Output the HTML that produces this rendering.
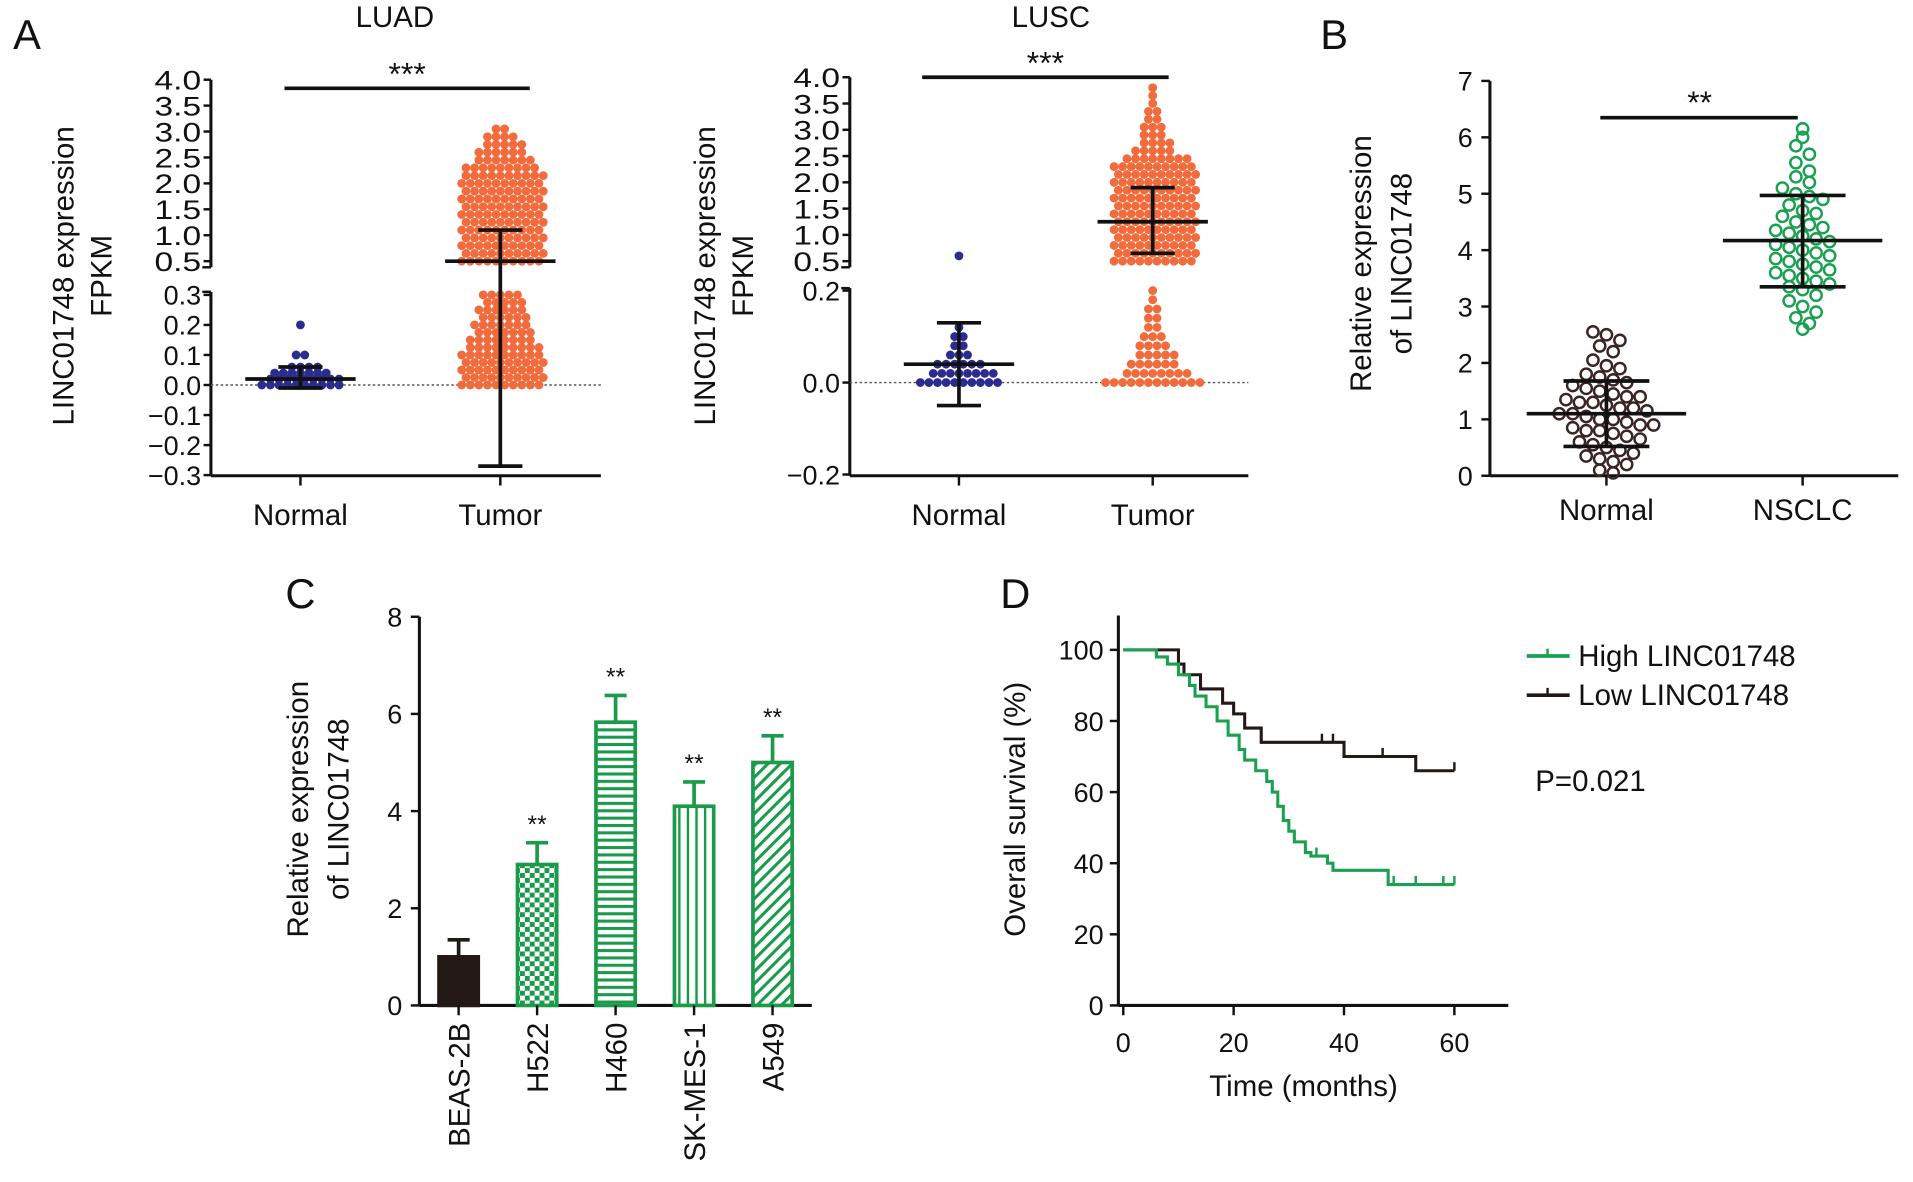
<!DOCTYPE html>
<html><head><meta charset="utf-8"><style>
html,body{margin:0;padding:0;background:#fff}
svg{display:block;font-family:"Liberation Sans",sans-serif}
</style></head><body>
<svg id="fig" width="1913" height="1182" viewBox="0 0 1560 964" preserveAspectRatio="none" xmlns="http://www.w3.org/2000/svg">
<defs>
<pattern id="pCheck" width="8" height="8" patternUnits="userSpaceOnUse"><rect width="8" height="8" fill="#fff"/><rect width="4" height="4" fill="#1a9a4a"/><rect x="4" y="4" width="4" height="4" fill="#1a9a4a"/></pattern>
<pattern id="pH" width="6" height="6" patternUnits="userSpaceOnUse"><rect width="6" height="6" fill="#fff"/><rect width="6" height="2.5" fill="#1a9a4a"/></pattern>
<pattern id="pV" width="7" height="7" patternUnits="userSpaceOnUse"><rect width="7" height="7" fill="#fff"/><rect width="2" height="7" fill="#1a9a4a"/></pattern>
<pattern id="pD" width="7" height="7" patternUnits="userSpaceOnUse" patternTransform="rotate(45)"><rect width="7" height="7" fill="#fff"/><rect width="2.5" height="7" fill="#1a9a4a"/></pattern>
</defs>
<g id="root"></g>
</svg>
<script>
// ---- Panel A data (value bins : dot counts) ----
const luadNormalVals=[0,0.02,0.04,0.06,0.1,0.2];
const luadNormalCnt=[10,9,7,4,2,1];
const luadTumorUpVals=[0.5,0.65,0.8,0.95,1.1,1.25,1.4,1.55,1.7,1.85,2.0,2.15,2.3,2.45,2.6,2.75,2.9,3.05];
const luadTumorUpCnt=[10,10,10,10,10,10,10,10,10,10,10,10,9,7,6,5,4,2];
const luadTumorLoVals=[0,0.025,0.05,0.075,0.1,0.125,0.15,0.175,0.2,0.225,0.25,0.275,0.3];
const luadTumorLoCnt=[10,10,10,10,10,9,8,7,7,6,6,5,5];
const luadStats={nMean:0.02,nLo:-0.01,nHi:0.06,tMean:0.5,tLo:-0.27,tHi:1.1};
const luscNormalVals=[0,0.02,0.04,0.06,0.08,0.1,0.12];
const luscNormalCnt=[10,8,6,3,2,2,1];
const luscNormalUpVals=[0.6];
const luscNormalUpCnt=[1];
const luscTumorUpVals=[0.5,0.65,0.8,0.95,1.1,1.25,1.4,1.55,1.7,1.85,2.0,2.15,2.3,2.45,2.6,2.75,2.9,3.05,3.2,3.35,3.5,3.65,3.8];
const luscTumorUpCnt=[10,10,10,10,10,10,10,10,10,10,10,10,10,8,5,4,3,3,2,2,1,1,1];
const luscTumorLoVals=[0,0.02,0.04,0.06,0.08,0.1,0.12,0.14,0.16,0.18,0.2];
const luscTumorLoCnt=[12,8,6,5,4,3,2,2,2,1,1];
const luscStats={nMean:0.04,nLo:-0.05,nHi:0.13,tMean:1.25,tLo:0.65,tHi:1.9};
const upTicks=["4.0","3.5","3.0","2.5","2.0","1.5","1.0","0.5"];
const upTickVals=[4.0,3.5,3.0,2.5,2.0,1.5,1.0,0.5];
const luadLoTicks=[0.3,0.2,0.1,0.0,-0.1,-0.2,-0.3];
const luscLoTicks=[0.2,0.0,-0.2];
// ---- Panel B ----
const bNormal=[2.55,2.5,2.4,2.3,2.2,2.05,1.95,1.9,1.8,1.75,1.7,1.65,1.6,1.55,1.5,1.45,1.4,1.4,1.35,1.3,1.3,1.25,1.2,1.2,1.15,1.1,1.1,1.05,1.0,1.0,0.95,0.9,0.9,0.85,0.8,0.8,0.75,0.7,0.65,0.6,0.55,0.5,0.45,0.4,0.35,0.3,0.25,0.2,0.1,0.05];
const bNSCLC=[6.15,6.0,5.85,5.7,5.55,5.4,5.3,5.2,5.1,5.0,4.95,4.9,4.8,4.7,4.65,4.6,4.5,4.45,4.4,4.35,4.3,4.25,4.2,4.15,4.1,4.05,4.0,3.95,3.9,3.85,3.8,3.75,3.7,3.65,3.6,3.55,3.5,3.45,3.4,3.35,3.3,3.2,3.1,3.0,2.9,2.8,2.7,2.6];
const bStats=[[1.1,0.52,1.68],[4.17,3.35,4.97]];
const bTicks=[0,1,2,3,4,5,6,7];
// ---- Panel C ----
const cCats=["BEAS-2B","H522","H460","SK-MES-1","A549"];
const cVals=[1.0,2.9,5.83,4.1,5.0];
const cErr=[0.35,0.45,0.55,0.5,0.55];
const cStars=["","**","**","**","**"];
const cTicks=[0,2,4,6,8];
// ---- Panel D ----
const highT=[0,6,8,10,12,13,15,17,19,21,22,24,26,27,28,29,30,31,33,34,37,38,48,60];
const highS=[100,98,96,93,90,87,84,80,76,72,69,66,63,60,56,52,49,46,43,42,40,38,34,34];
const lowT=[0,10,11,14,18,20,22,25,28,40,53,60];
const lowS=[100,96,93,89,85,82,78,74,74,70,66,66];
const highCens=[35,49,53,58,60];
const lowCens=[36,38,47,60];
const dTicks=[0,20,40,60];
const dYTicks=[0,20,40,60,80,100];

const NS="http://www.w3.org/2000/svg";
const root=document.getElementById('root');
function el(tag,attrs,parent){const e=document.createElementNS(NS,tag);for(const k in attrs)e.setAttribute(k,attrs[k]);(parent||root).appendChild(e);return e;}
function txt(x,y,s,size,anchor,extra){const t=el('text',Object.assign({x:x,y:y,'font-size':size,'text-anchor':anchor||'middle',fill:'#111'},extra||{}));t.textContent=s;return t;}
function line(x1,y1,x2,y2,w,c,dash){const a={x1:x1,y1:y1,x2:x2,y2:y2,stroke:c||'#111','stroke-width':w||2};if(dash)a['stroke-dasharray']=dash;return el('line',a);}

[["A",22,40],["B",1088,40],["C",245,496],["D",828,496]].forEach(p=>{const t=txt(p[1],p[2],p[0],34,'middle');});

function swarm(cx,vals,cnts,ymap,color,sp){
  vals.forEach((v,i)=>{const n=cnts[i];const off=(i%2)?sp/2:0;for(let k=0;k<n;k++){const c=el('circle',{cx:cx+(k-(n-1)/2)*sp+(n>3?off:0),cy:ymap(v),r:3.6,fill:color});
  
  }});
}
function errbar(cx,m,lo,hi,ym,cw,mw){line(cx,ym(lo),cx,ym(hi),3);line(cx-cw,ym(lo),cx+cw,ym(lo),3);line(cx-cw,ym(hi),cx+cw,ym(hi),3);line(cx-mw,ym(m),cx+mw,ym(m),3);}

function panelA(o){
  const g=el('g',{});
  const up=v=>o.up0-(v-0.5)*(o.up0-o.up4)/3.5;
  const lo=v=>o.z-v*o.k;
  const ax=o.ax;
  line(ax,o.up4,ax,o.up0+5,2.5);line(ax,o.loTop-3,ax,o.base,2.5);
  line(ax,o.up0+5,ax-7,o.up0+5,2);line(ax,o.loTop-3,ax-7,o.loTop-3,2);
  line(ax,o.base,o.xend,o.base,2.5);
  line(ax,o.z,o.xend,o.z,1.2,'#555','2,2');
  upTicks.forEach((s,i)=>{line(ax-6,up(upTickVals[i]),ax,up(upTickVals[i]),2);txt(ax-8,up(upTickVals[i])+8,s,22,'end',{'textLength':38,'lengthAdjust':'spacingAndGlyphs'});});
  o.loTicks.forEach(v=>{line(ax-6,lo(v),ax,lo(v),2);txt(ax-8,lo(v)+8,(v<0?'\u2212':'')+Math.abs(v).toFixed(1),22,'end');});
  [["Normal",o.nx],["Tumor",o.tx]].forEach(p=>{line(p[1],o.base,p[1],o.base+8,2);const t=txt(p[1],o.base+40,p[0],24);});
  txt(o.title[1],22,o.title[0],24);
  line(o.sig[0],o.sig[2],o.sig[1],o.sig[2],3);txt((o.sig[0]+o.sig[1])/2,o.sig[2]-3,'***',26);
  const yl=txt(0,0,'LINC01748 expression',24,'middle',{transform:`translate(${o.ylx},${o.ylc}) rotate(-90)`});
  txt(0,0,'FPKM',24,'middle',{transform:`translate(${o.ylx+31},${o.ylc}) rotate(-90)`});
  swarm(o.nx,o.nVals,o.nCnt,lo,'#2b2b90',7);
  if(o.nUpVals)swarm(o.nx,o.nUpVals,o.nUpCnt,up,'#2b2b90',7);
  swarm(o.tx,o.tUpVals,o.tUpCnt,up,'#f26b3c',7);
  swarm(o.tx,o.tLoVals,o.tLoCnt,lo,'#f26b3c',7);
  const s=o.stats;
  errbar(o.nx,s.nMean,s.nLo,s.nHi,lo,18,45);
  const tm=v=>v>=0.5?up(v):lo(v);
  line(o.tx,tm(s.tLo),o.tx,tm(s.tHi),3);
  line(o.tx-18,tm(s.tLo),o.tx+18,tm(s.tLo),3);line(o.tx-18,tm(s.tHi),o.tx+18,tm(s.tHi),3);line(o.tx-45,tm(s.tMean),o.tx+45,tm(s.tMean),3);
}
panelA({name:'luad-panel',ax:172,up4:65,up0:213,loTop:241,z:314,k:245,base:388,xend:490,nx:245,tx:408,loTicks:luadLoTicks,title:['LUAD',322],sig:[232,432,72],ylx:60,ylc:225,
 nVals:luadNormalVals,nCnt:luadNormalCnt,tUpVals:luadTumorUpVals,tUpCnt:luadTumorUpCnt,tLoVals:luadTumorLoVals,tLoCnt:luadTumorLoCnt,stats:luadStats});
panelA({name:'lusc-panel',ax:693,up4:63,up0:213,loTop:238,z:312,k:375,base:388,xend:1018,nx:782,tx:940,loTicks:luscLoTicks,title:['LUSC',857],sig:[752,953,63],ylx:583,ylc:225,
 nVals:luscNormalVals,nCnt:luscNormalCnt,nUpVals:luscNormalUpVals,nUpCnt:luscNormalUpCnt,tUpVals:luscTumorUpVals,tUpCnt:luscTumorUpCnt,tLoVals:luscTumorLoVals,tLoCnt:luscTumorLoCnt,stats:luscStats});

// Panel B
(function(){
  const ax=1215,y0=388,k=46;const ym=v=>y0-v*k;
  line(ax,ym(7),ax,y0,2.5);line(ax,y0,1548,y0,2.5);
  bTicks.forEach(v=>{line(ax-7,ym(v),ax,ym(v),2);txt(ax-14,ym(v)+8,String(v),22,'end');});
  [["Normal",1310],["NSCLC",1470]].forEach(p=>{line(p[1],y0,p[1],y0+8,2);txt(p[1],y0+36,p[0],24);});
  txt(0,0,'Relative expression',24,'middle',{transform:'translate(1118,215) rotate(-90)'});
  txt(0,0,'of LINC01748',24,'middle',{transform:'translate(1151,215) rotate(-90)'});
  line(1305,96,1466,96,3);txt(1386,92,'**',26);
  function bswarm(cx,vals,color){const bins={};vals.forEach(v=>{const b=Math.round(v/0.25);(bins[b]=bins[b]||[]).push(v);});
    for(const b in bins){const arr=bins[b];arr.forEach((v,i)=>{const c=el('circle',{cx:cx+(i-(arr.length-1)/2)*11,cy:ym(v),r:4.6,fill:'none',stroke:color,'stroke-width':2});
    
    });}}
  bswarm(1310,bNormal,'#3a2424');bswarm(1470,bNSCLC,'#1aa050');
  [[1310,bStats[0]],[1470,bStats[1]]].forEach(p=>{const s=p[1],cx=p[0];line(cx,ym(s[1]),cx,ym(s[2]),3);line(cx-35,ym(s[1]),cx+35,ym(s[1]),3);line(cx-35,ym(s[2]),cx+35,ym(s[2]),3);line(cx-65,ym(s[0]),cx+65,ym(s[0]),3);});
})();

// Panel C
(function(){
  const ax=342,y0=820,k=(820-503)/8;const ym=v=>y0-v*k;
  line(ax,503,ax,y0,2.5);line(ax,y0,662,y0,2.5);
  cTicks.forEach(v=>{line(ax-7,ym(v),ax,ym(v),2);txt(ax-14,ym(v)+8,String(v),22,'end');});
  txt(0,0,'Relative expression',24,'middle',{transform:'translate(251,660) rotate(-90)'});
  txt(0,0,'of LINC01748',24,'middle',{transform:'translate(284,660) rotate(-90)'});
  const fills=['#231815','url(#pCheck)','url(#pH)','url(#pV)','url(#pD)'];
  cCats.forEach((c,i)=>{const cx=374+i*64;const col=i==0?'#231815':'#1a9a4a';
    line(cx,ym(cVals[i]),cx,ym(cVals[i]+cErr[i]),3,col);line(cx-9,ym(cVals[i]+cErr[i]),cx+9,ym(cVals[i]+cErr[i]),3,col);
    const r=el('rect',{x:cx-16,y:ym(cVals[i]),width:32,height:y0-ym(cVals[i]),fill:fills[i],stroke:col,'stroke-width':3});
    
    
    if(cStars[i])txt(cx,ym(cVals[i]+cErr[i])-8,cStars[i],20);
    line(cx,y0,cx,y0+8,2);
    txt(0,0,c,24,'end',{transform:`translate(${cx+9},${y0+14}) rotate(-90)`});
  });
})();

// Panel D
(function(){
  const ax=912,y0=820,ky=2.9,x0=916,kx=4.5;const ym=v=>y0-v*ky,xm=t=>x0+t*kx;
  line(ax,502,ax,y0,2.5);line(ax,y0,1230,y0,2.5);
  dYTicks.forEach(v=>{line(ax-7,ym(v),ax,ym(v),2);txt(ax-12,ym(v)+8,String(v),22,'end');});
  dTicks.forEach(v=>{line(xm(v),y0,xm(v),y0+8,2);txt(xm(v),y0+38,String(v),22);});
  txt(1063,894,'Time (months)',24);
  txt(0,0,'Overall survival (%)',24,'middle',{transform:'translate(836,660) rotate(-90)'});
  function km(T,S,col,cens,name){let d=`M${xm(T[0])},${ym(S[0])}`;for(let i=1;i<T.length;i++){d+=` H${xm(T[i])} V${ym(S[i])}`;}
    const p=el('path',{d:d,fill:'none',stroke:col,'stroke-width':2.5});
    
    
    cens.forEach(t=>{let s=S[0];for(let i=0;i<T.length;i++)if(T[i]<=t)s=S[i];line(xm(t),ym(s),xm(t),ym(s)-7,2,col);});}
  km(lowT,lowS,'#231815',lowCens,'low-survival-curve');
  km(highT,highS,'#1aa050',highCens,'high-survival-curve');
  line(1245,535,1280,535,3,'#1aa050');line(1262,535,1262,529,2,'#1aa050');txt(1287,543,'High LINC01748',24,'start');
  line(1245,567,1280,567,3,'#231815');line(1262,567,1262,561,2,'#231815');txt(1287,575,'Low LINC01748',24,'start');
  txt(1252,645,'P=0.021',24,'start');
})();
</script>
</body></html>
